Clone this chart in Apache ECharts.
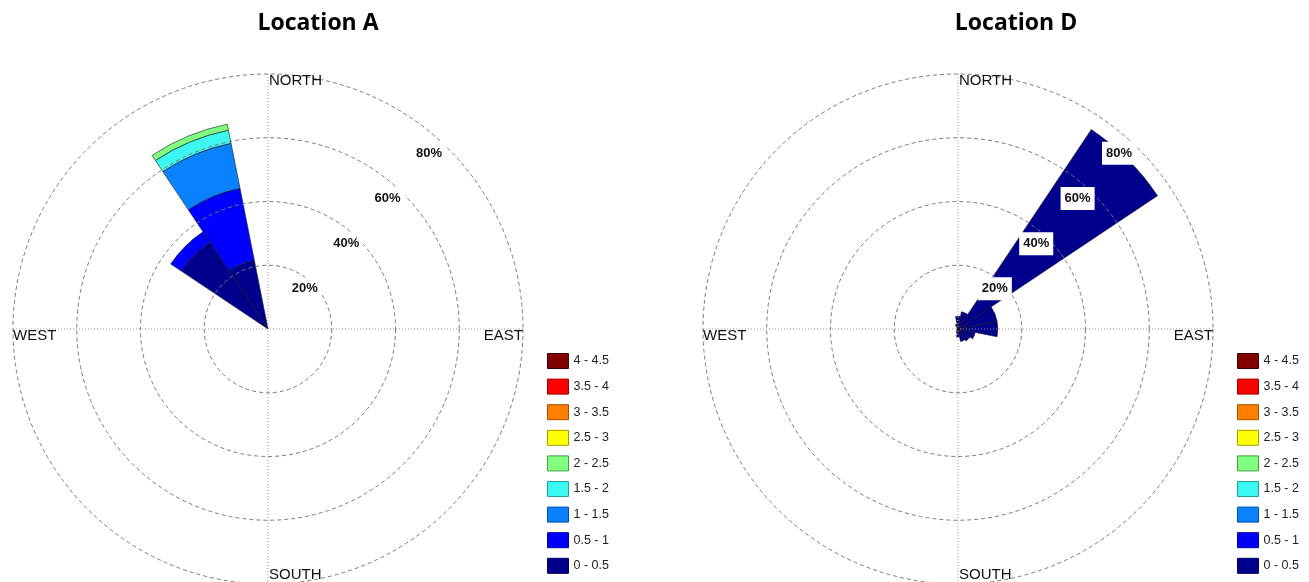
<!DOCTYPE html>
<html>
<head>
<meta charset="utf-8">
<script src="https://cdn.jsdelivr.net/npm/echarts@6/dist/echarts.min.js"></script>
<style>
  html, body { margin: 0; padding: 0; background: #fff; }
  #chart { width: 1309px; height: 582px; }
</style>
</head>
<body>
<div id="chart"></div>
<script>
// ---------------- DATA ----------------
const DIRECTIONS = ['N','NNE','NE','ENE','E','ESE','SE','SSE','S','SSW','SW','WSW','W','WNW','NW','NNW'];
const SPEED_BINS = ['0 - 0.5','0.5 - 1','1 - 1.5','1.5 - 2','2 - 2.5','2.5 - 3','3 - 3.5','3.5 - 4','4 - 4.5'];
const BIN_COLORS = ['#00008C','#0000FF','#0A82FF','#3CF7F0','#80FF80','#FFFF00','#FF8000','#FF0000','#800000'];
const BIN_BORDERS = ['#000050','#0000A0','#0050A0','#20A0A0','#40A040','#A0A000','#A05000','#A00000','#400000'];
const RING_TICKS = [20, 40, 60, 80];           // percent rings
const RING_LABELS = ['20%', '40%', '60%', '80%'];
const TITLES = ['Location A', 'Location D'];
const COMPASS = ['NORTH', 'EAST', 'SOUTH', 'WEST'];

// Location A: frequency (%) per direction for each speed bin
const A_0_05  = [0,0,0,0,0,0,0,0,0,0,0,0,0,0,32.7,22.0];
const A_05_1  = [0,0,0,0,0,0,0,0,0,0,0,0,0,0,4.0,23.0];
const A_1_15  = [0,0,0,0,0,0,0,0,0,0,0,0,0,0,0,14.4];
const A_15_2  = [0,0,0,0,0,0,0,0,0,0,0,0,0,0,0,4.2];
const A_2_25  = [0,0,0,0,0,0,0,0,0,0,0,0,0,0,0,1.9];
const A_25_3  = [0,0,0,0,0,0,0,0,0,0,0,0,0,0,0,0];
const A_3_35  = [0,0,0,0,0,0,0,0,0,0,0,0,0,0,0,0];
const A_35_4  = [0,0,0,0,0,0,0,0,0,0,0,0,0,0,0,0];
const A_4_45  = [0,0,0,0,0,0,0,0,0,0,0,0,0,0,0,0];

// Location D: only the 0 - 0.5 bin is present
const D_0_05  = [4.0,5.5,75.3,12.5,12.5,5.5,4.5,4.0,2.5,1.2,0.5,0.3,0.3,0.3,0.5,1.5];

const A_BINS = [A_0_05, A_05_1, A_1_15, A_15_2, A_2_25, A_25_3, A_3_35, A_35_4, A_4_45];
const D_BINS = [D_0_05];

// ---------------- LAYOUT ----------------
const R = 255;
const CENTERS = [[268, 329], [958, 329]];
const LEGEND_POS = [[547, 353], [1237, 353]];
const TITLE_X = [318, 1016];

const chart = echarts.init(document.getElementById('chart'), null, { renderer: 'canvas' });

const polar = [], angleAxis = [], radiusAxis = [], series = [], legend = [], title = [], graphic = [];

CENTERS.forEach((c, k) => {
  const base = k * 3;
  // polar 0: bars
  polar.push({ center: c, radius: R });
  angleAxis.push({ polarIndex: base, type: 'category', data: DIRECTIONS, startAngle: 90 + 11.25, clockwise: true,
    axisLine: { show: false }, axisTick: { show: false }, axisLabel: { show: false }, splitLine: { show: false } });
  radiusAxis.push({ polarIndex: base, type: 'value', min: 0, max: 80,
    axisLine: { show: false }, axisTick: { show: false }, axisLabel: { show: false }, splitLine: { show: false } });
  // polar 1: grid (rings + cross), drawn on top of the petals
  polar.push({ center: c, radius: R });
  angleAxis.push({ polarIndex: base + 1, type: 'value', min: 0, max: 360, interval: 90, startAngle: 90, z: 3,
    axisLine: { show: false }, axisTick: { show: false }, axisLabel: { show: false },
    splitLine: { show: true, lineStyle: { color: '#999', width: 1, type: [1, 2] } } });
  radiusAxis.push({ polarIndex: base + 1, type: 'value', min: 0, max: 80, interval: 20, z: 3,
    axisLine: { show: false }, axisTick: { show: false }, axisLabel: { show: false },
    splitLine: { show: true, lineStyle: { color: '#7a7a7a', width: 1, type: [4, 3] } } });
  // polar 2: ring labels along the NE diagonal
  polar.push({ center: c, radius: 238.3 });
  angleAxis.push({ polarIndex: base + 2, type: 'value', min: 0, max: 360, startAngle: 47.5, show: false });
  radiusAxis.push({ polarIndex: base + 2, type: 'value', min: 2.2, max: 80, z: 10,
    axisLine: { show: false }, axisTick: { show: false }, splitLine: { show: false },
    axisLabel: {
      show: true, customValues: RING_TICKS, margin: 0, rotate: 0,
      align: 'center', verticalAlign: 'middle',
      formatter: v => { const i = RING_TICKS.indexOf(Math.round(v)); return i >= 0 ? RING_LABELS[i] : ''; },
      fontFamily: 'Liberation Sans, Arial', fontWeight: 'bold', fontSize: 13, color: '#111',
      backgroundColor: '#fff', padding: [5, 4]
    } });

  const bins = k === 0 ? A_BINS : D_BINS;
  bins.forEach((arr, b) => {
    series.push({
      type: 'bar', coordinateSystem: 'polar', polarIndex: base, stack: 'loc' + k,
      name: SPEED_BINS[b], barCategoryGap: '0%', z: 2,
      data: arr.map(v => (v > 0 ? v : null)),
      itemStyle: { color: BIN_COLORS[b], borderColor: '#1a1a1a', borderWidth: 0.6 },
      emphasis: { disabled: true }, silent: true, animation: false
    });
  });

  legend.push({
    orient: 'vertical', left: LEGEND_POS[k][0], top: LEGEND_POS[k][1], padding: 0,
    itemWidth: 21, itemHeight: 15, itemGap: 9.6, selectedMode: false, icon: 'rect',
    data: SPEED_BINS.slice().reverse().map(n => {
      const b = SPEED_BINS.indexOf(n);
      return { name: n, itemStyle: { color: BIN_COLORS[b], borderColor: BIN_BORDERS[b], borderWidth: 1 } };
    }),
    textStyle: { fontFamily: 'Liberation Sans, Arial', fontSize: 12.5, lineHeight: 14, color: '#222' }
  });

  title.push({ text: TITLES[k], left: TITLE_X[k] - 5, top: 7, textAlign: 'center',
    textStyle: { fontFamily: 'Open Sans', fontWeight: 'bold', fontSize: 23, color: '#000' } });

  const font = '15px "Liberation Sans", Arial';
  const txt = (text, x, y, align) => ({ type: 'text', x, y, silent: true, z: 20,
    style: { text, fill: '#111', font, align, verticalAlign: 'middle', textAlign: align, textVerticalAlign: 'middle' } });
  graphic.push(txt(COMPASS[0], c[0] + 1, c[1] - R + 7, 'left'));
  graphic.push(txt(COMPASS[1], c[0] + R, c[1] + 7, 'right'));
  graphic.push(txt(COMPASS[2], c[0] + 1, c[1] + R - 9, 'left'));
  graphic.push(txt(COMPASS[3], c[0] - R, c[1] + 7, 'left'));
});

chart.setOption({
  animation: false,
  backgroundColor: '#fff',
  title, polar, angleAxis, radiusAxis, series, legend, graphic
});
</script>
</body>
</html>
